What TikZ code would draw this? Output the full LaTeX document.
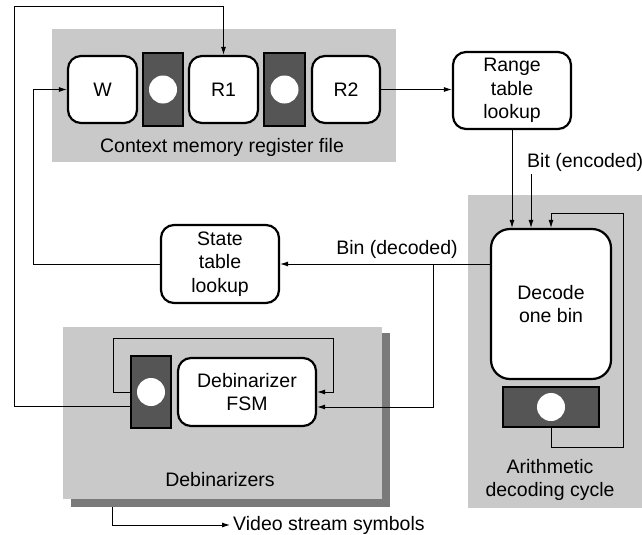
\documentclass[tikz,border=0pt]{standalone}
\usepackage{fontspec}
\setmainfont{Liberation Sans}
\usetikzlibrary{arrows.meta}
\definecolor{panelgray}{HTML}{C9C9C9}
\definecolor{shadowgray}{HTML}{7A7A7A}
\definecolor{regfill}{HTML}{555555}
\begin{document}
\begin{tikzpicture}[x=1pt,y=-1pt,
  font=\fontsize{19.5}{23.5}\selectfont,
  panel/.style={fill=panelgray, draw=none, inner sep=0pt},
  shadowpanel/.style={fill=shadowgray, draw=none, inner sep=0pt},
  box/.style={draw, line width=2.2pt, rounded corners=13pt, fill=white, align=center, inner sep=0pt},
  reg/.style={draw, line width=1.8pt, fill=regfill, inner sep=0pt},
  hole/.style={circle, fill=white, draw=none, minimum size=28pt, inner sep=0pt},
  lbl/.style={inner sep=0pt, align=center},
  wire/.style={line width=0.9pt},
  arr/.style={wire, -{Latex[length=8pt,width=5pt]}}]
\useasboundingbox (0,0) rectangle (642,535);

% panels
\node[panel, minimum width=344pt, minimum height=133pt] (ctx) at (224,95.5) {};
\node[panel, minimum width=176pt, minimum height=313pt] (arith) at (556,351.5) {};
\node[shadowpanel, minimum width=319pt, minimum height=174pt] (debshadow) at (230.5,420) {};
\node[panel, minimum width=319pt, minimum height=172pt] (deb) at (222.5,413) {};

% labels of panels
\node[lbl] (ctxlbl) at (222,147) {Context memory register file};
\node[lbl] (arithlbl) at (550,480) {Arithmetic\\decoding cycle};
\node[lbl] (deblbl) at (220,480) {Debinarizers};

% context memory registers
\node[box, minimum width=69pt, minimum height=67pt] (W) at (102.5,89.5) {W};
\node[reg, minimum width=40pt, minimum height=73pt] (reg1) at (163,89.5) {};
\node[hole] (hole1) at (reg1) {};
\node[box, minimum width=69pt, minimum height=67pt] (R1) at (223.5,89.5) {R1};
\node[reg, minimum width=41pt, minimum height=73pt] (reg2) at (284.5,89.5) {};
\node[hole] (hole2) at (reg2) {};
\node[box, minimum width=68pt, minimum height=67pt] (R2) at (346,89.5) {R2};

% lookups
\node[box, minimum width=118pt, minimum height=77pt] (range) at (512,90.5) {Range\\table\\lookup};
\node[box, minimum width=118pt, minimum height=78pt] (state) at (220,264) {State\\table\\lookup};

% arithmetic decoder
\node[box, rounded corners=19pt, minimum width=120pt, minimum height=150pt] (decode) at (551,304) {Decode\\one bin};
\node[reg, minimum width=96pt, minimum height=40pt] (decreg) at (551,407) {};
\node[hole] (hole3) at (decreg) {};

% debinarizer
\node[reg, minimum width=40pt, minimum height=72pt] (debreg) at (151,392) {};
\node[hole] (hole4) at (debreg) {};
\node[box, minimum width=138pt, minimum height=68pt] (fsm) at (247,392) {Debinarizer\\FSM};

% text labels on wires
\node[lbl, anchor=west] (bitlbl) at (527,162) {Bit (encoded)};
\node[lbl] (binlbl) at (397,249) {Bin (decoded)};
\node[lbl, anchor=west, inner sep=3pt] (video) at (230,525) {Video stream symbols};

% coordinates
\coordinate (topleft) at (14,6);
\coordinate (wcorner) at (33,264);
\coordinate (bitstart) at (531,174);
\coordinate (loopR) at (623,213);
\coordinate (branch) at (433,264);
\coordinate (fsmloopL) at (113,392);
\coordinate (fsmloopR) at (333,338);
\coordinate (outstart) at (112,507);

% connectors
\draw[arr] ([yshift=-14pt]debreg.west) -| (topleft) -| (R1.north);
\draw[arr] (state.west) -- (wcorner) |- (W.west);
\draw[arr] (R2.east) -- (R2.east -| range.west);
\draw[arr] (range.south) -- (range.south |- decode.north);
\draw[arr] (bitstart) -- (bitstart |- decode.north);
\draw[arr] (decreg.south) -- ++(0,20) -| (loopR) -| (decode.north);
\draw[arr] ([yshift=40pt]decode.west) -- (state.east);
\draw[arr] (branch) |- ([yshift=-15pt]fsm.east);
\draw[arr] (debreg.west) -- (fsmloopL) |- (fsmloopR) |- (fsm.east);
\draw[arr] (outstart) |- (video.west);
\end{tikzpicture}
\end{document}
